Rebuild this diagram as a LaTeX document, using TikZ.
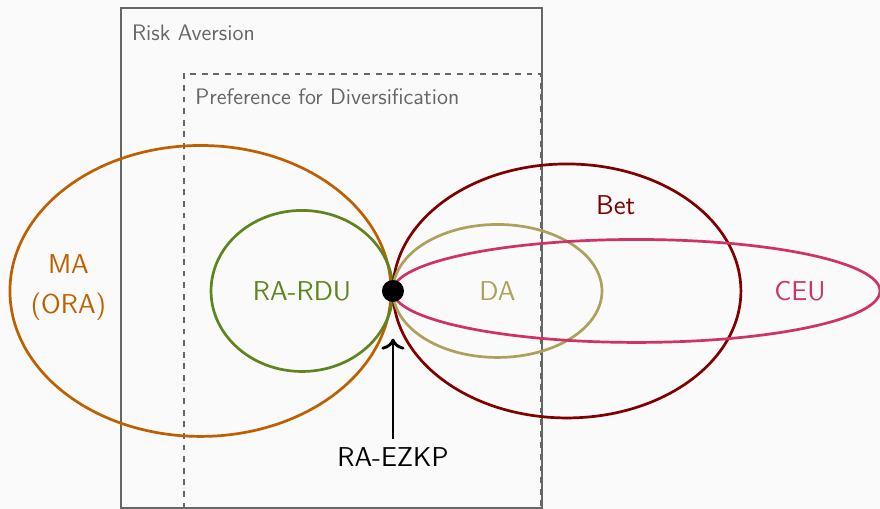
\documentclass[tikz,border=0pt]{standalone}
\usepackage{amsmath}
\usepackage{xcolor}
\usepackage{tikz}
\usetikzlibrary{arrows.meta, positioning, calc}
\definecolor{bgray}{RGB}{250,250,250}
\definecolor{cbox}{RGB}{102,102,102}
\definecolor{corange}{RGB}{191,96,0}
\definecolor{cgreen}{RGB}{95,133,30}
\definecolor{ckhaki}{RGB}{172,162,92}
\definecolor{cdarkred}{RGB}{128,0,0}
\definecolor{cpink}{RGB}{206,50,102}

\begin{document}
\begin{tikzpicture}[
    >={To[length=2mm]},
    setline/.style={line width=1.4pt},
    boxlabel/.style={cbox, font=\sffamily\fontsize{11.6}{14}\selectfont, anchor=north west, inner sep=0pt},
    setlabel/.style={font=\sffamily\fontsize{14.1}{20.7}\selectfont, align=center},
]
    % Canvas
    \fill[bgray] (-7.145, -3.963) rectangle (8.855, 5.29);
    \useasboundingbox (-7.145, -3.963) rectangle (8.855, 5.29);

    % Boxes
    \draw[cbox, line width=1pt] (-4.945, -3.954) rectangle (2.709, 5.145);
    \draw[cbox, line width=1pt, dashed] (-3.80, -3.954) rectangle (2.690, 3.945);
    \node[boxlabel] (risk) at (-4.75, 4.84) {Risk Aversion};
    \node[boxlabel] (pref) at (-3.60, 3.68) {Preference for Diversification};

    % Sets, all touching at one point
    \draw[setline, corange] (-3.50, 0) ellipse [x radius=3.464, y radius=2.645];
    \draw[setline, cgreen] (-1.654, 0) ellipse [x radius=1.654, y radius=1.464];
    \draw[setline, cdarkred] (3.163, 0) ellipse [x radius=3.163, y radius=2.309];
    \draw[setline, ckhaki] (1.90, 0) ellipse [x radius=1.90, y radius=1.209];
    \draw[setline, cpink] (4.427, 0) ellipse [x radius=4.427, y radius=0.936];

    \node[setlabel, corange] (ma) at (-5.90, 0.07) {MA\\(ORA)};
    \node[setlabel, cgreen] (rdu) at (-1.654, 0) {RA-RDU};
    \node[setlabel, ckhaki] (da) at (1.90, 0) {DA};
    \node[setlabel, cdarkred] (bet) at (4.05, 1.56) {Bet};
    \node[setlabel, cpink] (ceu) at (7.40, 0) {CEU};

    % Common point
    \node[circle, fill=black, minimum size=0.40cm, inner sep=0pt] (pt) at (0, 0) {};
    \node[setlabel, black] (ezkp) at (0, -3.02) {RA-EZKP};
    \draw[->, line width=1.5pt, shorten >=0.66cm, shorten <=0.03cm] (ezkp) -- (pt);
\end{tikzpicture}
\end{document}
